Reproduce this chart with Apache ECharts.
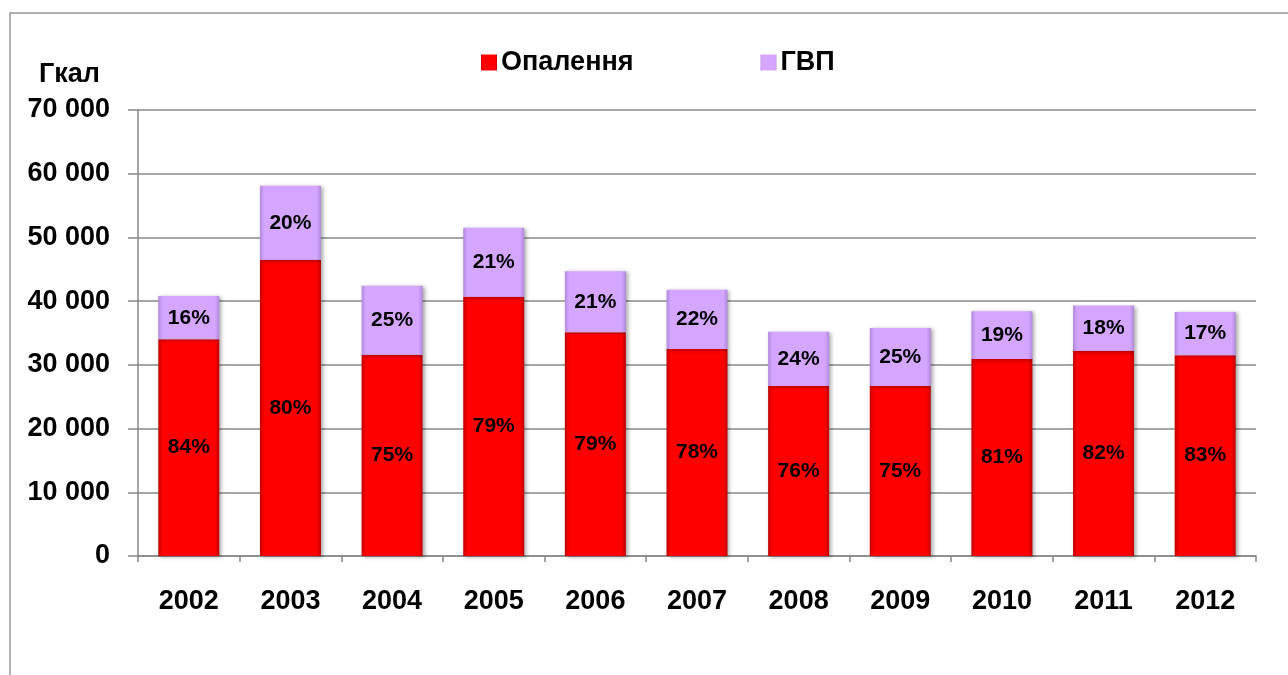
<!DOCTYPE html>
<html>
<head>
<meta charset="utf-8">
<script src="https://cdn.jsdelivr.net/npm/echarts@6/dist/echarts.min.js"></script>
<style>
  html, body { margin: 0; padding: 0; background: #fff; }
  #chart { width: 1288px; height: 675px; }
</style>
</head>
<body>
<div id="chart"></div>
<script>
var years = ['2002', '2003', '2004', '2005', '2006', '2007', '2008', '2009', '2010', '2011', '2012'];
var heating = [34000, 46500, 31600, 40700, 35100, 32500, 26700, 26700, 30900, 32200, 31500];
var hotWater = [6800, 11600, 10800, 10800, 9600, 9300, 8500, 9100, 7500, 7100, 6800];
var heatingPct = ['84%', '80%', '75%', '79%', '79%', '78%', '76%', '75%', '81%', '82%', '83%'];
var hotWaterPct = ['16%', '20%', '25%', '21%', '21%', '22%', '24%', '25%', '19%', '18%', '17%'];
var yTicks = [0, 10000, 20000, 30000, 40000, 50000, 60000, 70000];

var FONT = '"Liberation Sans", Arial, sans-serif';

function bevel(edge, mid) {
    return new echarts.graphic.LinearGradient(0, 0, 1, 0, [
        {offset: 0, color: edge},
        {offset: 0.07, color: mid},
        {offset: 0.93, color: mid},
        {offset: 1, color: edge}
    ]);
}

var chart = echarts.init(document.getElementById('chart'));
chart.setOption({
    backgroundColor: '#fff',
    animation: false,
    graphic: [{
        type: 'rect',
        shape: {x: 10, y: 13, width: 1400, height: 800},
        style: {fill: 'none', stroke: '#999', lineWidth: 1.5},
        silent: true
    }],
    title: {
        text: 'Гкал',
        left: 34,
        top: 56,
        textStyle: {fontFamily: FONT, fontSize: 27, fontWeight: 'bold', color: '#000'}
    },
    legend: {
        top: 44,
        left: 476,
        itemWidth: 16,
        itemHeight: 16,
        itemGap: 127,
        icon: 'rect',
        textStyle: {fontFamily: FONT, fontSize: 27, fontWeight: 'bold', color: '#000', padding: [0, 0, 0, -1]},
        data: ['Опалення', 'ГВП']
    },
    grid: {left: 138, right: 32, top: 110, bottom: 119},
    xAxis: {
        type: 'category',
        data: years,
        axisLine: {lineStyle: {color: '#888', width: 1.5}},
        axisTick: {show: true, length: 6, lineStyle: {color: '#888', width: 1.5}},
        axisLabel: {margin: 32, fontFamily: FONT, fontSize: 27, fontWeight: 'bold', color: '#000'}
    },
    yAxis: {
        type: 'value',
        min: yTicks[0],
        max: yTicks[yTicks.length - 1],
        interval: 10000,
        axisLine: {show: true, lineStyle: {color: '#888', width: 1.5}},
        axisTick: {show: true, length: 10, lineStyle: {color: '#888', width: 1.5}},
        splitLine: {lineStyle: {color: '#888', width: 1.5}},
        axisLabel: {
            margin: 28,
            fontFamily: FONT, fontSize: 27, fontWeight: 'bold', color: '#000',
            formatter: function (v) {
                return String(v).replace(/\B(?=(\d{3})+(?!\d))/g, ' ');
            }
        }
    },
    series: [{
        name: 'Опалення',
        type: 'bar',
        stack: 'total',
        barWidth: '60%',
        data: heating,
        itemStyle: {
            color: bevel('#C00000', '#FF0000'),
            shadowColor: 'rgba(0,0,0,0.35)',
            shadowBlur: 4,
            shadowOffsetX: 2,
            shadowOffsetY: 1
        },
        label: {
            show: true,
            position: 'inside',
            fontFamily: FONT, fontSize: 21, fontWeight: 'bold', color: '#000',
            formatter: function (p) { return heatingPct[p.dataIndex]; }
        }
    }, {
        name: 'ГВП',
        type: 'bar',
        stack: 'total',
        barWidth: '60%',
        data: hotWater,
        itemStyle: {
            color: bevel('#B088DC', '#D4A6FF'),
            shadowColor: 'rgba(0,0,0,0.35)',
            shadowBlur: 4,
            shadowOffsetX: 2,
            shadowOffsetY: 1
        },
        label: {
            show: true,
            position: 'inside',
            fontFamily: FONT, fontSize: 21, fontWeight: 'bold', color: '#000',
            formatter: function (p) { return hotWaterPct[p.dataIndex]; }
        }
    }]
});
</script>
</body>
</html>
